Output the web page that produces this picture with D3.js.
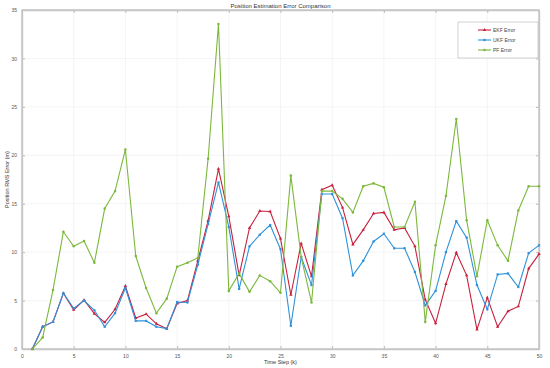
<!DOCTYPE html>
<html>
<head>
<meta charset="utf-8">
<script src="https://cdn.jsdelivr.net/npm/d3@7"></script>
<style>
  body { margin: 0; background: #fff; }
  text { font-family: "Liberation Sans", Arial, sans-serif; }
</style>
</head>
<body>
<svg id="chart" width="550" height="368"></svg>
<script>
// time steps 1..50
var steps = d3.range(1, 51);

var ekfError = [0, 2.3, 2.8, 5.75, 4.05, 5.05, 3.65, 2.75, 4.1, 6.5,
    3.2, 3.6, 2.6, 2.1, 4.7, 5.0, 9.1, 13.25, 18.6, 13.7,
    7.6, 12.5, 14.25, 14.2, 11.4, 5.6, 10.9, 7.5, 16.45, 16.9,
    14.6, 10.8, 12.3, 14.0, 14.1, 12.3, 12.5, 10.6, 5.1, 2.65,
    6.7, 9.95, 7.6, 2.0, 5.3, 2.3, 3.9, 4.4, 8.3, 9.8];

var ukfError = [0, 2.3, 2.8, 5.75, 4.2, 5.0, 4.0, 2.3, 3.7, 6.3,
    2.9, 2.9, 2.3, 2.1, 4.85, 4.8, 8.7, 12.9, 17.2, 12.6,
    6.2, 10.6, 11.8, 12.8, 10.3, 2.4, 9.5, 6.6, 16.0, 16.0,
    13.5, 7.6, 9.1, 11.1, 11.9, 10.4, 10.4, 7.95, 4.5, 6.0,
    10.0, 13.2, 11.5, 6.6, 4.1, 7.7, 7.8, 6.4, 9.9, 10.7];

var pfError = [0, 1.2, 6.1, 12.1, 10.6, 11.15, 8.9, 14.5, 16.3, 20.6,
    9.6, 6.3, 3.7, 5.2, 8.5, 8.9, 9.4, 19.65, 33.55, 6.0,
    7.8, 5.9, 7.6, 7.0, 5.8, 17.9, 9.5, 4.8, 16.3, 16.3,
    15.5, 14.1, 16.8, 17.1, 16.7, 12.6, 12.6, 15.2, 2.8, 10.7,
    15.8, 23.75, 13.3, 7.5, 13.3, 10.7, 9.1, 14.3, 16.8, 16.8];

var seriesNames = ['EKF Error', 'UKF Error', 'PF Error'];
var seriesColors = ['#c8203f', '#2f92da', '#7cb83c'];
var xTicks = d3.range(0, 51, 5);
var yTicks = d3.range(0, 36, 5);

var svg = d3.select('#chart'),
    margin = { top: 10, right: 11, bottom: 19, left: 22 },
    width = 550 - margin.left - margin.right,
    height = 368 - margin.top - margin.bottom,
    g = svg.append('g')
        .attr('transform', 'translate(' + margin.left + ',' + margin.top + ')');

var x = d3.scaleLinear().domain([0, 50]).range([0, width]);
var y = d3.scaleLinear().domain([0, 35]).range([height, 0]);

// grid
g.append('g').selectAll('line')
    .data(xTicks)
    .enter().append('line')
    .attr('x1', d => x(d)).attr('x2', d => x(d))
    .attr('y1', 0).attr('y2', height)
    .attr('stroke', '#ececec').attr('stroke-width', 0.6);

g.append('g').selectAll('line')
    .data(yTicks)
    .enter().append('line')
    .attr('x1', 0).attr('x2', width)
    .attr('y1', d => y(d)).attr('y2', d => y(d))
    .attr('stroke', '#ececec').attr('stroke-width', 0.6);

// axes (ticks pointing inward like matlab)
var xAxis = g.append('g')
    .attr('transform', 'translate(0,' + height + ')')
    .call(d3.axisBottom(x).tickValues(xTicks).tickSizeInner(-3).tickSizeOuter(0).tickPadding(5));
var yAxis = g.append('g')
    .call(d3.axisLeft(y).tickValues(yTicks).tickSizeInner(-3).tickSizeOuter(0).tickPadding(5));

// top / right tick marks
g.append('g')
    .call(d3.axisTop(x).tickValues(xTicks).tickSizeInner(-3).tickSizeOuter(0).tickFormat(''));
g.append('g')
    .attr('transform', 'translate(' + width + ',0)')
    .call(d3.axisRight(y).tickValues(yTicks).tickSizeInner(-3).tickSizeOuter(0).tickFormat(''));

g.selectAll('.domain').attr('stroke', '#c6c6c6').attr('stroke-width', 1.4);
g.selectAll('.tick line').attr('stroke', '#bdbdbd');
g.selectAll('.tick text').attr('fill', '#555').style('font-size', '5px');

// frame
g.append('rect')
    .attr('width', width).attr('height', height)
    .attr('fill', 'none').attr('stroke', '#c6c6c6').attr('stroke-width', 1.4);

var allSeries = [ekfError, ukfError, pfError];

var line = d3.line()
    .x((d, i) => x(steps[i]))
    .y(d => y(d));

allSeries.forEach(function (vals, si) {
    g.append('path')
        .datum(vals)
        .attr('fill', 'none')
        .attr('stroke', seriesColors[si])
        .attr('stroke-width', 1.1)
        .attr('d', line);

    var sym = si === 0 ? d3.symbolTriangle : (si === 1 ? d3.symbolSquare : d3.symbolCircle);
    g.append('g').selectAll('path')
        .data(vals)
        .enter().append('path')
        .attr('transform', (d, i) => 'translate(' + x(steps[i]) + ',' + y(d) + ')')
        .attr('d', d3.symbol().type(sym).size(5))
        .attr('fill', seriesColors[si]);
});

// title and labels
svg.append('text')
    .attr('x', margin.left + width / 2).attr('y', 8)
    .attr('text-anchor', 'middle')
    .style('font-size', '6px').attr('fill', '#333')
    .text('Position Estimation Error Comparison');

svg.append('text')
    .attr('x', margin.left + width / 2).attr('y', 364)
    .attr('text-anchor', 'middle')
    .style('font-size', '5.5px').attr('fill', '#333')
    .text('Time Step (k)');

svg.append('text')
    .attr('transform', 'translate(9,' + (margin.top + height / 2) + ') rotate(-90)')
    .attr('text-anchor', 'middle')
    .style('font-size', '5.5px').attr('fill', '#333')
    .text('Position RMS Error (m)');

// legend
var legend = svg.append('g').attr('transform', 'translate(458,22)');
legend.append('rect')
    .attr('width', 80).attr('height', 36)
    .attr('fill', '#fff').attr('stroke', '#c6c6c6').attr('stroke-width', 0.8);

seriesNames.forEach(function (name, i) {
    var row = legend.append('g').attr('transform', 'translate(0,' + (8 + i * 10) + ')');
    row.append('line')
        .attr('x1', 20).attr('x2', 33)
        .attr('stroke', seriesColors[i]).attr('stroke-width', 1.1);
    var sym = i === 0 ? d3.symbolTriangle : (i === 1 ? d3.symbolSquare : d3.symbolCircle);
    row.append('path')
        .attr('transform', 'translate(26.5,0)')
        .attr('d', d3.symbol().type(sym).size(5))
        .attr('fill', seriesColors[i]);
    row.append('text')
        .attr('x', 35).attr('dy', '0.35em')
        .style('font-size', '5px').attr('fill', '#444')
        .text(name);
});
</script>
</body>
</html>
